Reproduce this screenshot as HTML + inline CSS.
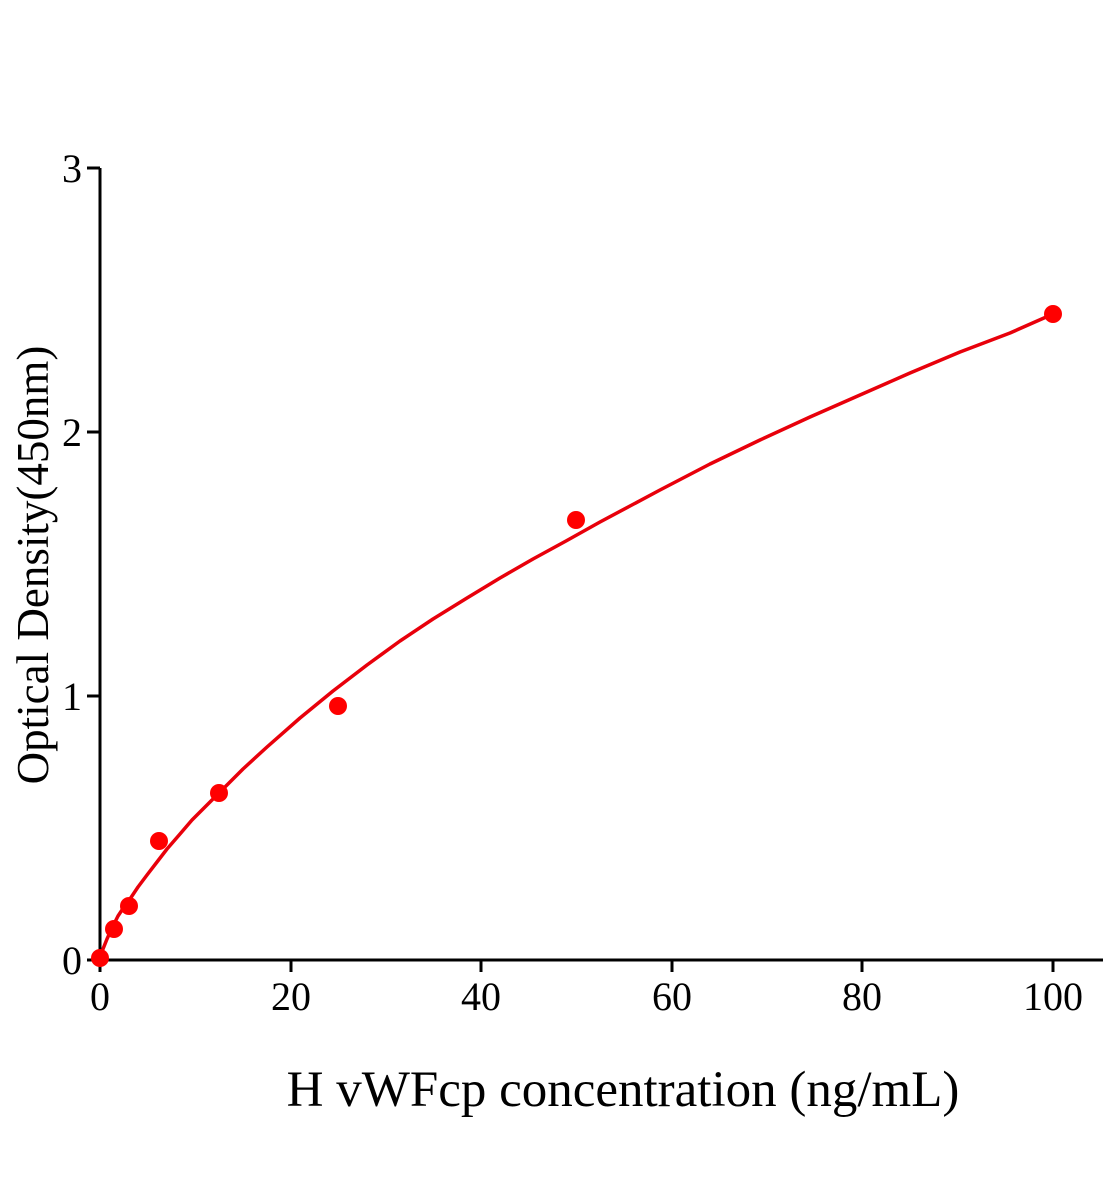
<!DOCTYPE html>
<html><head><meta charset="utf-8"><style>
html,body{margin:0;padding:0;background:#fff;}
svg{display:block;font-family:"Liberation Serif",serif;}
</style></head><body>
<svg width="1104" height="1200" viewBox="0 0 1104 1200" xmlns="http://www.w3.org/2000/svg">
<g stroke="#000" stroke-width="3" fill="none">
<line x1="100" y1="168" x2="100" y2="961"/>
<line x1="99" y1="960" x2="1103" y2="960"/>
<line x1="87" y1="168" x2="100" y2="168"/>
<line x1="87" y1="432" x2="100" y2="432"/>
<line x1="87" y1="696" x2="100" y2="696"/>
<line x1="87" y1="960" x2="100" y2="960"/>
<line x1="100" y1="960" x2="100" y2="972"/>
<line x1="291" y1="960" x2="291" y2="972"/>
<line x1="481" y1="960" x2="481" y2="972"/>
<line x1="672" y1="960" x2="672" y2="972"/>
<line x1="862" y1="960" x2="862" y2="972"/>
<line x1="1053" y1="960" x2="1053" y2="972"/>
</g>
<g font-size="40" fill="#000" text-anchor="end">
<text x="82" y="182">3</text>
<text x="82" y="446">2</text>
<text x="82" y="710">1</text>
<text x="82" y="974">0</text>
</g>
<g font-size="40" fill="#000" text-anchor="middle">
<text x="100" y="1010">0</text>
<text x="291" y="1010">20</text>
<text x="481" y="1010">40</text>
<text x="672" y="1010">60</text>
<text x="862" y="1010">80</text>
<text x="1053" y="1010">100</text>
</g>
<text x="623" y="1106" font-size="51" text-anchor="middle">H vWFcp concentration (ng/mL)</text>
<text transform="translate(48,565) rotate(-90)" font-size="45" text-anchor="middle">Optical Density(450nm)</text>
<polyline fill="none" stroke="#e8000b" stroke-width="3.5" stroke-linejoin="round" points="100,958 103,949 107,939 112,928 118,916 124,907 130,899 138,887 147,875 157,862 167,849 180,834 192,820 205,807 219,793 243,769 267,747 300,718 333,691 367,665 400,641 433,619 467,598 500,578 533,559 566,541 600,522 630,506 660,490 710,464 760,440 810,417 860,395 910,373 960,352 1010,333 1053,314"/>
<g fill="#f00">
<circle cx="100" cy="958" r="9"/>
<circle cx="114" cy="929" r="9"/>
<circle cx="129" cy="906" r="9"/>
<circle cx="159" cy="841" r="9"/>
<circle cx="219" cy="793" r="9"/>
<circle cx="338" cy="706" r="9"/>
<circle cx="576" cy="520" r="9"/>
<circle cx="1053" cy="314" r="9"/>
</g>
</svg>
</body></html>
